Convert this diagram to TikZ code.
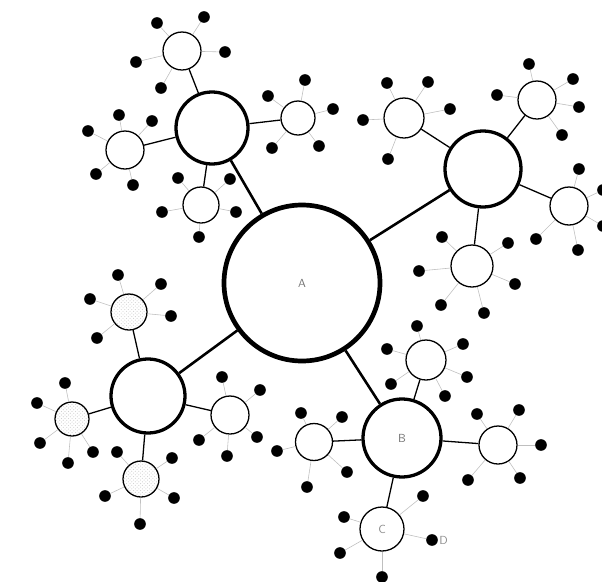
\documentclass[tikz,border=0pt]{standalone}
\usetikzlibrary{positioning,patterns}
\begin{document}
\begin{tikzpicture}[
  x=0.03cm, y=-0.03cm,
  core/.style={circle, draw, line width=4pt, fill=white, minimum size=4.68cm, inner sep=0pt, font=\sffamily, text=black!55},
  hub/.style={circle, draw, line width=2.8pt, fill=white, minimum size=2.25cm, inner sep=0pt, font=\sffamily, text=black!55},
  leaf/.style={circle, draw, line width=1.1pt, fill=white, minimum size=1.14cm, inner sep=0pt, font=\sffamily, text=black!45},
  stipple/.style={leaf, pattern=crosshatch dots, pattern color=black!18},
  dot/.style={circle, fill=black, minimum size=0.35cm, inner sep=0pt},
  trunk/.style={line width=2.2pt},
  branch/.style={line width=1.1pt},
  spoke/.style={line width=0.5pt, black!25},
]
  \useasboundingbox (0,0) rectangle (602,582);

  % centre and the four hubs
  \node[core] (A)  at (302,283) {A};
  \node[hub, minimum size=2.16cm] (tl) at (212,128) {};
  \node[hub, minimum size=2.28cm] (tr) at (483,169) {};
  \node[hub, minimum size=2.22cm] (bl) at (148,396) {};
  \node[hub, minimum size=2.34cm] (B)  at (402,438) {B};

  \foreach \h in {tl,tr,bl,B} {
    \draw[trunk] (A) -- (\h);
  }

  % leaves
  \node[leaf]                      (tlN) at (182,51)  {};
  \node[leaf]                      (tlW) at (125,150) {};
  \node[leaf, minimum size=1.08cm] (tlS) at (201,205) {};
  \node[leaf, minimum size=1.02cm] (tlE) at (298,118) {};

  \node[leaf, minimum size=1.2cm]  (trNW) at (404,118) {};
  \node[leaf]                      (trNE) at (537,100) {};
  \node[leaf]                      (trE)  at (569,206) {};
  \node[leaf, minimum size=1.26cm] (trS)  at (472,266) {};

  \node[stipple, minimum size=1.08cm] (blN) at (129,312) {};
  \node[stipple, minimum size=1.02cm] (blW) at (72,419)  {};
  \node[leaf]                         (blE) at (230,415) {};
  \node[stipple, minimum size=1.08cm] (blS) at (141,479) {};

  \node[leaf, minimum size=1.2cm]  (bN) at (426,360) {};
  \node[leaf, minimum size=1.11cm] (bW) at (314,442) {};
  \node[leaf]                      (bE) at (498,445) {};
  \node[leaf, minimum size=1.32cm] (C)  at (382,529) {C};

  \foreach \h/\l in {tl/tlN, tl/tlW, tl/tlS, tl/tlE,
                     tr/trNW, tr/trNE, tr/trE, tr/trS,
                     bl/blN, bl/blW, bl/blE, bl/blS,
                     B/bN, B/bW, B/bE, B/C} {
    \draw[branch] (\h) -- (\l);
  }

  % dots round each leaf
  \foreach \l/\lst in {
      tlN/{(157,23),(204,17),(225,52),(136,62),(161,88)},
      tlW/{(119,115),(152,121),(88,131),(96,174),(133,185)},
      tlS/{(178,178),(230,179),(162,212),(236,212),(199,237)},
      tlE/{(268,96),(272,148),(305,80),(333,109),(319,146)},
      trNW/{(387,83),(428,82),(450,109),(363,120),(388,159)},
      trNE/{(529,64),(573,79),(579,107),(497,95),(562,135)},
      trE/{(579,169),(536,239),(578,250),(603,190),(603,226)},
      trS/{(442,237),(508,243),(419,271),(515,284),(441,305),(484,313)},
      blN/{(118,275),(161,284),(90,299),(171,316),(97,338)},
      blW/{(65,383),(37,403),(40,443),(68,463),(93,452)},
      blE/{(222,377),(260,390),(199,440),(257,437),(227,456)},
      blS/{(117,452),(172,458),(105,496),(174,498),(140,524)},
      bN/{(417,326),(463,344),(387,349),(467,377),(391,384),(445,396)},
      bW/{(301,413),(342,417),(277,451),(347,472),(307,487)},
      bE/{(477,414),(519,410),(541,445),(468,480),(520,478)},
      C/{(423,496),(344,517),(340,553),(382,577),(432,540)}} {
    \foreach \p [count=\i] in \lst {
      \node[dot] (\l-\i) at \p {};
      \draw[spoke] (\l) -- (\l-\i);
    }
  }

  \node[right=1pt of C-5, inner sep=0pt, font=\sffamily, text=black!45] (Dlbl) {D};
\end{tikzpicture}
\end{document}
